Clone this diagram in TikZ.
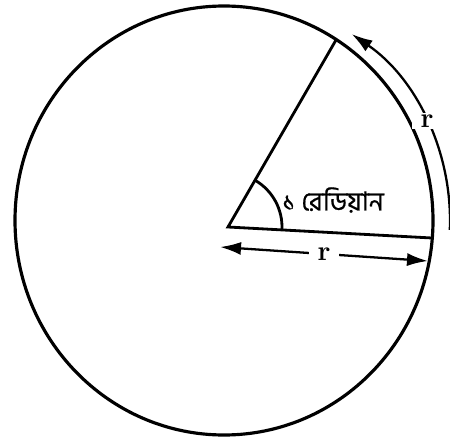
\documentclass[tikz,border=0pt]{standalone}
\usepackage{fontspec}
\newfontfamily\bengalifont[Script=Bengali, FakeBold=0.6]{Hind Siliguri}
\usetikzlibrary{arrows.meta}

\begin{document}
\begin{tikzpicture}[x=0.02cm, y=0.02cm,
    rim/.style={line width=1.8pt},
    ray/.style={line width=1.6pt},
    dimline/.style={line width=1.3pt},
    lbl/.style={font=\fontsize{16}{16}\selectfont\bfseries, fill=white, inner xsep=5pt, inner ysep=1pt},
    bn/.style={font=\bengalifont\fontsize{15}{15}\selectfont, anchor=west, inner sep=0pt},
    >={Latex[length=4.2mm, width=2.6mm]}
  ]
  \useasboundingbox (0,0) rectangle (450,444);

  \coordinate (centre) at (224,223.5);
  \coordinate (vertex) at (228,217);
  \coordinate (rimtop) at (336,404);
  \coordinate (rimright) at (432,206);
  \coordinate (dimleft) at (220,197);
  \coordinate (dimright) at (428,183);
  \coordinate (arcstart) at ([shift={(-2.4:226)}]centre);

  % circle and the two radii
  \draw[rim] (centre) ellipse [x radius=209, y radius=214.5];
  \draw[ray] (rimright) -- (vertex) -- (rimtop);
  \draw[ray] ([shift={(-3.1:54)}]vertex) arc[start angle=-3.1, end angle=60, radius=54];
  \node[bn] (angletext) at (282,244) {১ রেডিয়ান};

  % radius length and arc length
  \draw[dimline, <->] (dimleft) -- node[lbl] (rlow) {r} (dimright);
  \draw[dimline, ->] (arcstart) arc[start angle=-2.4, end angle=55.6, radius=226]
    node[lbl, pos=0.49] (rhigh) {r};
\end{tikzpicture}
\end{document}
